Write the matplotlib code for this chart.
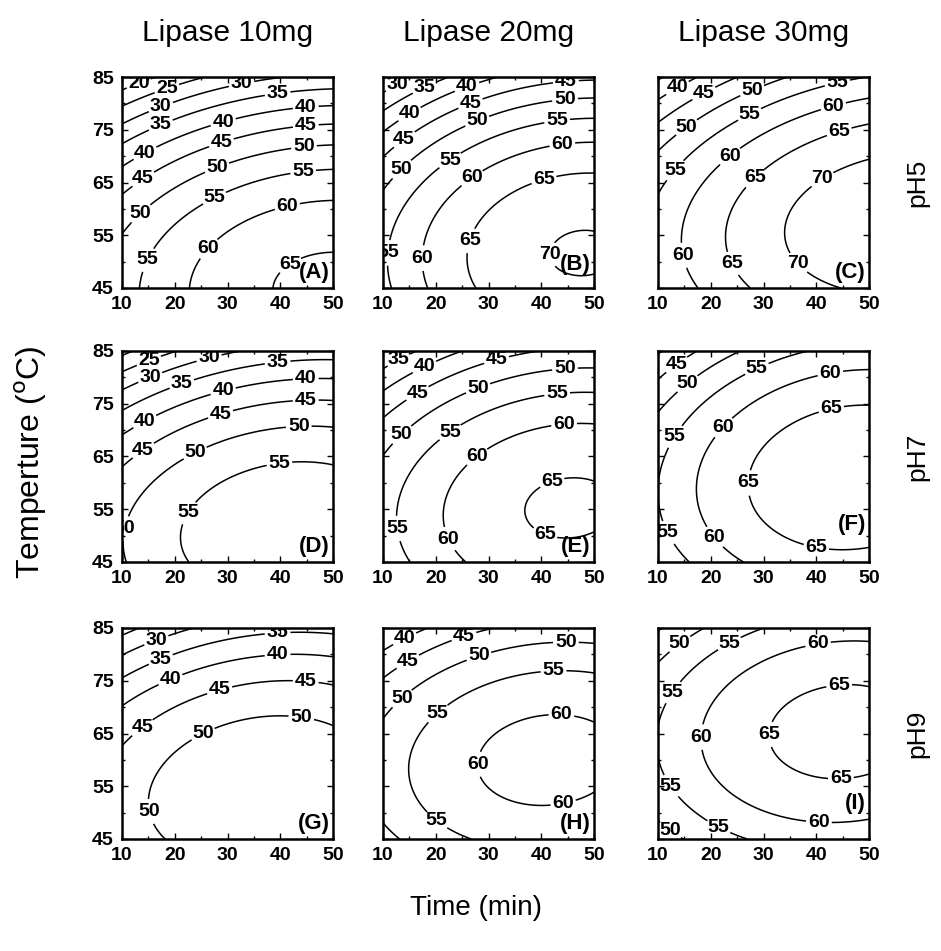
import numpy as np
import matplotlib
matplotlib.use('Agg')
import matplotlib.pyplot as plt
from matplotlib.ticker import MultipleLocator

plt.rcParams['font.family'] = ['Liberation Sans', 'DejaVu Sans']

LIPASE = ['Lipase 10mg', 'Lipase 20mg', 'Lipase 30mg']
PH = ['pH5', 'pH7', 'pH9']
LETTERS = [['(A)', '(B)', '(C)'],
           ['(D)', '(E)', '(F)'],
           ['(G)', '(H)', '(I)']]
TIME_TICKS = [10, 20, 30, 40, 50]
TEMP_TICKS = [45, 55, 65, 75, 85]
LEVELS = [20, 25, 30, 35, 40, 45, 50, 55, 60, 65, 70]

# second order response surface per panel
# coded x = (time - 30) / 20, y = (temp - 65) / 20
# rows: pH5, pH7, pH9 ; columns: lipase 10, 20, 30 mg
B0 = [[53.5, 62.1, 66.2], [52.5, 60.8, 65.5], [51.0, 59.7, 64.7]]
B1 = [[7.15, 8.60, 9.10], [5.27, 6.70, 7.33], [3.47, 4.72, 5.72]]
B2 = [[-18.0, -13.4, -9.12], [-13.8, -9.6, -4.6], [-10.1, -5.48, -0.42]]
B11 = [[-3.35, -4.50, -3.14], [-3.67, -4.00, -4.14], [-3.80, -3.85, -3.83]]
B22 = [[-8.7, -9.5, -9.3], [-9.5, -9.0, -8.8], [-8.8, -9.5, -9.3]]
B12 = [[0.60, 0.78, 1.36], [1.70, 1.07, 1.30], [1.83, 1.22, 0.98]]

W, H = 941, 951
COL_LEFT = [122, 383, 658]
ROW_TOP = [77, 351, 628]
SIZE = 211
# panel letters sit a little higher where a label runs along the bottom
LETTER_Y = [[0.025, 0.06, 0.025], [0.025, 0.025, 0.13], [0.025, 0.025, 0.12]]


def surface(r, c, t, T):
    x = (t - 30.0) / 20.0
    y = (T - 65.0) / 20.0
    return (B0[r][c] + B1[r][c] * x + B2[r][c] * y
            + B11[r][c] * x ** 2 + B22[r][c] * y ** 2 + B12[r][c] * x * y)


def label_points(cs, ybox):
    # one to three labels along each contour piece, kept apart from each
    # other and from the panel letter in the lower right corner
    pts = []
    for segs in cs.allsegs:
        for seg in segs:
            if len(seg) < 2:
                continue
            u = (seg[:, 0] - 10) / 40
            v = (seg[:, 1] - 45) / 40
            d = np.r_[0, np.cumsum(np.hypot(np.diff(u), np.diff(v)))]
            L = d[-1]
            if L < 0.12:
                continue
            if L < 0.55:
                fr = [0.5]
            elif L < 1.05:
                fr = [0.25, 0.75]
            else:
                fr = [0.12, 0.5, 0.88]
            for f in fr:
                for df in [0, 0.05, -0.05, 0.1, -0.1, 0.15, -0.15, 0.22, -0.22, 0.3, -0.3]:
                    g = f + df
                    if g < 0.02 or g > 0.98:
                        continue
                    i = min(np.searchsorted(d, g * L), len(seg) - 1)
                    if u[i] > 0.8 and v[i] < ybox + 0.12:
                        continue
                    if any(abs(u[i] - a) < 0.115 and abs(v[i] - b) < 0.075
                           for a, b in pts):
                        continue
                    pts.append((u[i], v[i]))
                    break
    return [(10 + 40 * a, 45 + 40 * b) for a, b in pts]


fig = plt.figure(figsize=(W / 100, H / 100), dpi=100)

t = np.linspace(10, 50, 241)
T = np.linspace(45, 85, 241)
tt, TT = np.meshgrid(t, T)

for r in range(3):
    for c in range(3):
        ax = fig.add_axes([COL_LEFT[c] / W, 1 - (ROW_TOP[r] + SIZE) / H,
                           SIZE / W, SIZE / H])
        Z = surface(r, c, tt, TT)
        cs = ax.contour(tt, TT, Z, levels=LEVELS, colors='black', linewidths=1.1)
        texts = ax.clabel(cs, manual=label_points(cs, LETTER_Y[r][c]),
                          inline=True, inline_spacing=2, fmt='%d', fontsize=14)
        for tx in texts:
            tx.set_rotation(0)
            tx.set_fontweight('bold')

        ax.set_xlim(10, 50)
        ax.set_ylim(45, 85)
        ax.set_xticks(TIME_TICKS)
        ax.set_yticks(TEMP_TICKS)
        ax.xaxis.set_minor_locator(MultipleLocator(5))
        ax.yaxis.set_minor_locator(MultipleLocator(5))
        ax.tick_params(which='both', direction='in', top=True, right=True,
                       width=1.0, labelsize=14, pad=6)
        ax.tick_params(which='major', length=4)
        ax.tick_params(which='minor', length=2.5)
        if c > 0:
            ax.tick_params(labelleft=False)
        for lab in ax.get_xticklabels() + ax.get_yticklabels():
            lab.set_fontweight('bold')
        for sp in ax.spines.values():
            sp.set_linewidth(1.8)

        ax.text(0.985, LETTER_Y[r][c], LETTERS[r][c], transform=ax.transAxes,
                ha='right', va='bottom', fontsize=16, fontweight='bold')

for c in range(3):
    fig.text((COL_LEFT[c] + SIZE / 2) / W, 1 - 33 / H, LIPASE[c],
             ha='center', va='center', fontsize=21.5)
for r in range(3):
    fig.text(917 / W, 1 - (ROW_TOP[r] + SIZE / 2) / H, PH[r],
             ha='center', va='center', rotation=90, fontsize=19)

fig.text(31 / W, 1 - 462 / H, 'Temperture ($^{\\rm o}$C)', ha='center',
         va='center', rotation=90, fontsize=23)
fig.text(476 / W, 1 - 908 / H, 'Time (min)', ha='center', va='center',
         fontsize=20)

fig.savefig('out.png', dpi=100)
